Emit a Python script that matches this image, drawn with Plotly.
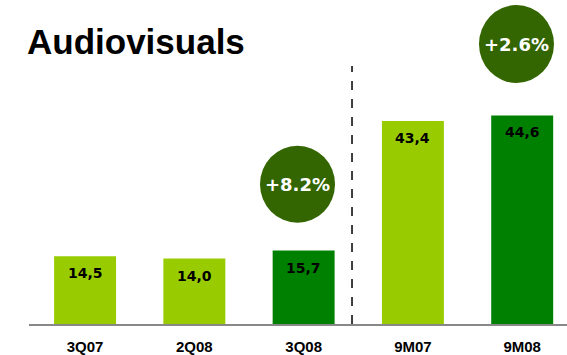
import plotly.graph_objects as go

categories = ["3Q07", "2Q08", "3Q08", "9M07", "9M08"]
values = [14.5, 14.0, 15.7, 43.4, 44.6]
value_labels = ["14,5", "14,0", "15,7", "43,4", "44,6"]
bar_colors = ["#99cc00", "#99cc00", "#008000", "#99cc00", "#008000"]
growth_labels = ["+8.2%", "+2.6%"]
title_text = "Audiovisuals"

FONT = "Liberation Sans, Arial, sans-serif"
WIDE = "DejaVu Sans, Verdana, sans-serif"

fig = go.Figure()
fig.add_trace(go.Bar(
    x=list(range(len(categories))),
    y=values,
    marker=dict(color=bar_colors, line=dict(width=0)),
    hoverinfo="skip",
))

annotations = []
for i, (v, lab) in enumerate(zip(values, value_labels)):
    annotations.append(dict(
        x=i, y=v, xref="x", yref="y", text="<b>%s</b>" % lab,
        showarrow=False, yanchor="top", yshift=-7,
        font=dict(family=WIDE, size=14, color="#000000"),
    ))

# growth bubbles (paper coordinates)
bubbles = [
    dict(x0=0.4294, x1=0.5688, y0=0.333, y1=0.586),
    dict(x0=0.8364, x1=0.9758, y0=0.793, y1=1.049),
]
shapes = []
for b, lab in zip(bubbles, growth_labels):
    shapes.append(dict(type="circle", xref="paper", yref="paper",
                       x0=b["x0"], x1=b["x1"], y0=b["y0"], y1=b["y1"],
                       fillcolor="#336600", line=dict(width=0), layer="above"))
    annotations.append(dict(
        x=(b["x0"] + b["x1"]) / 2, y=(b["y0"] + b["y1"]) / 2,
        xref="paper", yref="paper", text="<b>%s</b>" % lab,
        showarrow=False, xanchor="center", yanchor="middle",
        font=dict(family=WIDE, size=18, color="#ffffff"),
    ))

# dashed separator
shapes.append(dict(type="line", xref="paper", yref="paper",
                   x0=0.6004, x1=0.6004, y0=0, y1=0.849,
                   line=dict(color="#000000", width=1.5, dash="dash")))

annotations.append(dict(
    x=0, y=0.929, xref="paper", yref="paper", xanchor="left", yanchor="middle",
    xshift=-4, text="<b>%s</b>" % title_text, showarrow=False,
    font=dict(family=FONT, size=35, color="#000000"),
))

fig.update_layout(
    width=567, height=355,
    margin=dict(l=29, r=0, t=20, b=31),
    paper_bgcolor="#ffffff", plot_bgcolor="#ffffff",
    showlegend=False, bargap=0.433,
    xaxis=dict(
        range=[-0.513, 4.41],
        tickmode="array", tickvals=list(range(len(categories))),
        ticktext=["<b>%s</b>" % c for c in categories],
        tickfont=dict(family=FONT, size=15, color="#000000"),
        ticklabelstandoff=8,
        showline=True, linecolor="#888888", linewidth=1.5,
        showgrid=False, zeroline=False, ticks="",
    ),
    yaxis=dict(range=[0, 65], visible=False, showgrid=False, zeroline=False),
    shapes=shapes,
    annotations=annotations,
)

fig.write_html("out.html")
